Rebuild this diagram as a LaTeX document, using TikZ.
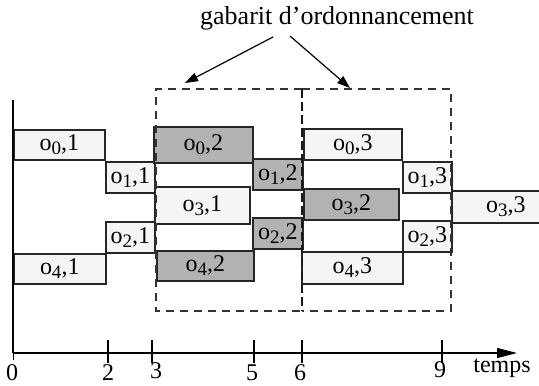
\documentclass[tikz,border=0pt]{standalone}
\usepackage{fontspec}
\setmainfont{Liberation Serif}
\usetikzlibrary{arrows.meta}
\newcommand\osub[2]{o\raisebox{-4pt}{\fontsize{19}{19}\selectfont #1},#2}
\begin{document}
\begin{tikzpicture}[x=1pt,y=-1pt,
  lbl/.style={font=\fontsize{24}{28}\selectfont, inner sep=0pt},
  obox/.style={lbl, draw=black!85, line width=1.5pt, anchor=north west, minimum height=#1},
  light/.style={fill=black!4},
  dark/.style={fill=black!30},
  gab/.style={draw=black!80, line width=1.4pt, dash pattern=on 8pt off 6pt},
  gabmid/.style={draw=black!90, line width=1.8pt, dash pattern=on 9pt off 4pt},
  axis/.style={line width=1.4pt, black},
  ]
\useasboundingbox (0,0) rectangle (539,386);
\begin{scope}
\clip (0,0) rectangle (539,386);
% boxes
\node[obox=30, light, minimum width=91] (o01) at (13,129) {\osub{0}{1}};
\node[obox=31, light, minimum width=49] (o11) at (105,161) {\osub{1}{1}};
\node[obox=31, light, minimum width=49] (o21) at (105,221) {\osub{2}{1}};
\node[obox=30, light, minimum width=92] (o41) at (13,253) {\osub{4}{1}};
\node[obox=36, dark, minimum width=99] (o02) at (153,126) {\osub{0}{2}};
\node[obox=37, light, minimum width=95] (o31) at (154,186) {\osub{3}{1}};
\node[obox=30, dark, minimum width=97] (o42) at (156,250) {\osub{4}{2}};
\node[obox=31, dark, minimum width=50] (o12) at (252,158) {\osub{1}{2}};
\node[obox=31, dark, minimum width=50] (o22) at (252,217) {\osub{2}{2}};
\node[obox=31, light, minimum width=98] (o03) at (303,128) {\osub{0}{3}};
\node[obox=31, dark, minimum width=95] (o32) at (303,188) {\osub{3}{2}};
\node[obox=32, light, minimum width=101] (o43) at (301,251) {\osub{4}{3}};
\node[obox=31, light, minimum width=49] (o13) at (402,161) {\osub{1}{3}};
\node[obox=31, light, minimum width=49] (o23) at (402,220) {\osub{2}{3}};
\node[obox=32, light, minimum width=108] (o33) at (451,190) {\osub{3}{3}};
\end{scope}
% scheduling templates
\coordinate (gA) at (302,89);
\coordinate (gB) at (302,311);
\draw[gab] (gA) -- (156,89) -- (156,311) -- (gB);
\draw[gab] (gA) -- (451,89) -- (451,311) -- (gB);
\draw[gabmid] (gA) -- (gB);
% title and arrows
\node[lbl, font=\fontsize{26}{30}\selectfont] (title) at (337,18) {gabarit d'ordonnancement};
\coordinate (s1) at (273,37);
\coordinate (s2) at (290,36);
\coordinate (t1) at (185,83);
\coordinate (t2) at (350,88);
\draw[line width=1.2pt, -{Triangle[length=13pt,width=9pt]}] (s1) -- (t1);
\draw[line width=1.2pt, -{Triangle[length=13pt,width=9pt]}] (s2) -- (t2);
% axes
\coordinate (O) at (13,353);
\coordinate (Ytop) at (13,100);
\coordinate (Xend) at (517,353);
\draw[axis] (Ytop) -- (O);
\draw[axis, -{Triangle[length=20pt,width=10pt]}] (O) -- (Xend);
\draw[line width=1pt] (13,345) -- (13,360);
\foreach \x in {108,152,254,302,442} \draw[line width=1.2pt] (\x,340) -- (\x,363);
\node[lbl] (l0) at (12,373) {0};
\node[lbl] (l2) at (108,373) {2};
\node[lbl] (l3) at (156,371) {3};
\node[lbl] (l5) at (252,373) {5};
\node[lbl] (l6) at (300,373) {6};
\node[lbl] (l9) at (440,370) {9};
\node[lbl] (lt) at (502,368) {temps};
\end{tikzpicture}
\end{document}
